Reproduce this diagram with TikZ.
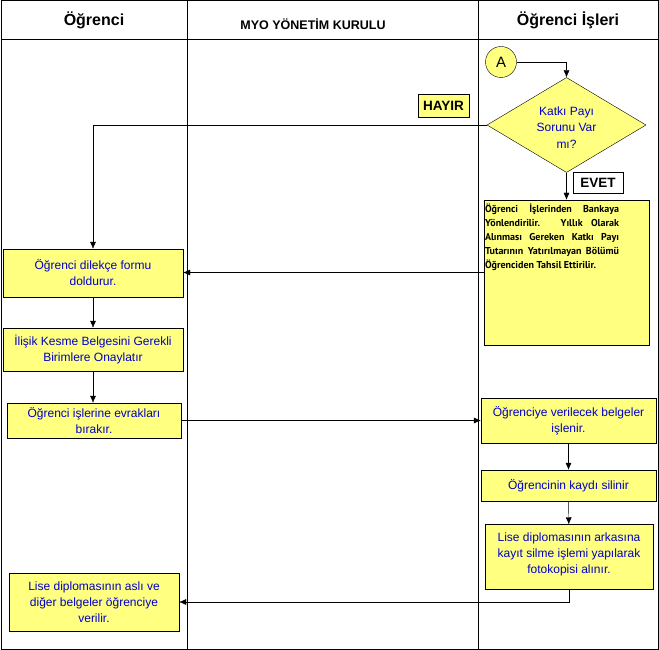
\documentclass[tikz,border=0pt]{standalone}
\usepackage{fontspec}
\setmainfont{Liberation Sans}
\newfontfamily\bankafont{PT Sans}
\usetikzlibrary{shapes.geometric,arrows.meta}
\definecolor{kutusari}{RGB}{255,255,128}
\definecolor{yazimavi}{RGB}{0,0,200}

\begin{document}
\begin{tikzpicture}[x=1pt,y=-1pt,
    kutu/.style={draw,fill=kutusari,text=yazimavi,align=center,inner sep=2pt,
      font=\fontsize{12}{16}\selectfont},
    karar/.style={draw,diamond,aspect=1.67,fill=kutusari,text=yazimavi,align=center,inner sep=0pt,
      minimum width=159pt,minimum height=95pt,font=\fontsize{12}{16.5}\selectfont},
    etiket/.style={draw,inner sep=1pt,font=\fontsize{13.5}{14}\selectfont\bfseries},
    baslik/.style={font=\fontsize{16}{18}\selectfont\bfseries},
    ok/.style={-{Latex[length=7pt,width=6pt]}}]
      \useasboundingbox (0,0) rectangle (659,650);
      \draw[line width=1pt]
      (1,1) rectangle (658,649)
      (1,40) -- (658,40)
      (187,1) -- (187,649)
      (478,1) -- (478,649);
      \node[baslik] (ogrenci) at (94,20) {Öğrenci};
      \node[font=\fontsize{12.5}{14}\selectfont\bfseries] (kurul) at (313,24) {MYO YÖNETİM KURULU};
      \node[baslik] (isleri) at (568,20) {Öğrenci İşleri};
      \node[draw,circle,fill=kutusari,minimum size=31pt,inner sep=0pt,font=\fontsize{15}{16}\selectfont] (A) at (501,62) {A};
      \node[karar] (katki) at (566.5,125) {\\[-3pt]Katkı Payı\\Sorunu Var\\mı?};
      \node[etiket,fill=kutusari,minimum width=51pt,minimum height=23pt] (hayir) at (443.5,105.5) {HAYIR};
      \node[etiket,fill=white,minimum width=50pt,minimum height=21pt] (evet) at (598,182.5) {EVET};
      \node[kutu,minimum width=165pt,minimum height=145pt] (tahsil) at (566.5,272.5) {};
      \node[anchor=north west,inner sep=1pt,text width=134pt,align=justify,
        font=\bankafont\fontsize{10}{14}\selectfont\bfseries] (tahsilyazi) at ([yshift=-3pt]tahsil.north west)
        {Öğrenci İşlerinden Bankaya\linebreak Yönlendirilir. Yıllık Olarak\linebreak
         Alınması Gereken Katkı Payı\linebreak Tutarının Yatırılmayan Bölümü\linebreak
         Öğrenciden Tahsil Ettirilir.};
      \node[kutu,minimum width=180pt,minimum height=48pt] (dilekce) at (93,273) {Öğrenci dilekçe formu\\doldurur.};
      \node[kutu,minimum width=180pt,minimum height=43pt] (ilisik) at (93,349.5) {İlişik Kesme Belgesini Gerekli\\Birimlere Onaylatır};
      \node[kutu,minimum width=174pt,minimum height=35pt] (evrak) at (94,420.5) {Öğrenci işlerine evrakları\\bırakır.};
      \node[kutu,minimum width=175pt,minimum height=45pt] (belge) at (568.5,420.5) {Öğrenciye verilecek belgeler\\işlenir.};
      \node[kutu,minimum width=175pt,minimum height=31pt] (kayit) at (568.5,485.5) {Öğrencinin kaydı silinir};
      \node[kutu,minimum width=168pt,minimum height=65pt] (diploma) at (569,557) {Lise diplomasının arkasına\\kayıt silme işlemi yapılarak\\fotokopisi alınır.\\[-8pt]};
      \node[kutu,minimum width=170pt,minimum height=58pt] (teslim) at (94,602) {Lise diplomasının aslı ve\\diğer belgeler öğrenciye\\verilir.};
      \draw[ok] (A) -| (katki.north);
      \draw[ok] (katki.west) -| (dilekce.north);
      \draw[ok] (katki.south) -- (tahsil.north);
      \draw[ok] (tahsil.west) -- (tahsil.west -| dilekce.east);
      \draw[ok] (dilekce) -- (ilisik);
      \draw[ok] (ilisik.south) -- (ilisik.south |- evrak.north);
      \draw[ok] (evrak.east) -- (evrak.east -| belge.west);
      \draw[ok] (belge) -- (kayit);
      \draw[ok] (kayit) -- (diploma);
      \draw[ok] (diploma.south) |- (teslim.east);
    \end{tikzpicture}
\end{document}
